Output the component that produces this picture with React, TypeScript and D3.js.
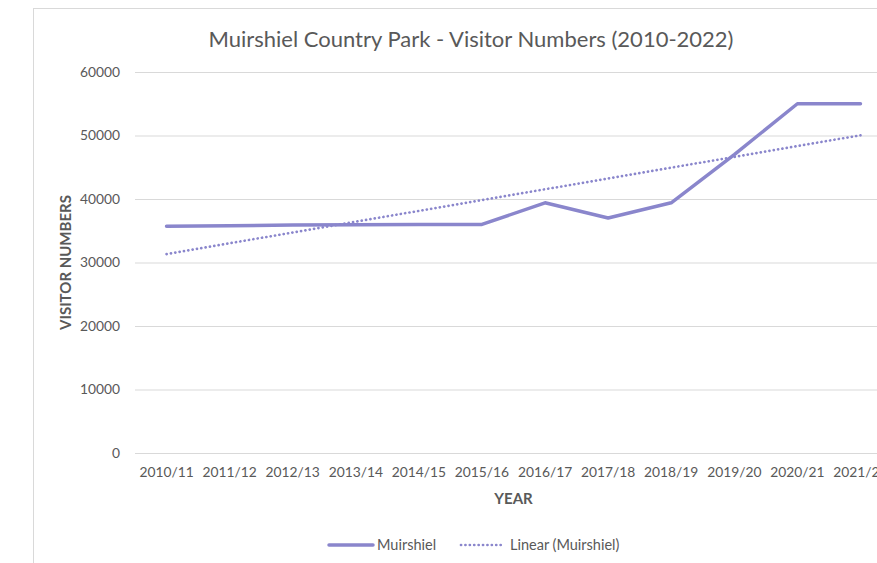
import * as d3 from 'd3';
import { useEffect, useRef } from "react";
import * as React from "react";

const years = ["2010/11", "2011/12", "2012/13", "2013/14", "2014/15", "2015/16",
    "2016/17", "2017/18", "2018/19", "2019/20", "2020/21", "2021/22"];
const visitors = [35700, 35800, 35900, 35950, 36000, 36000, 39400, 37000, 39400, 47000, 55000, 55000];
const yTicks = [0, 10000, 20000, 30000, 40000, 50000, 60000];

const title = "Muirshiel Country Park - Visitor Numbers (2010-2022)";
const lineColor = "#8a86cc";
const textColor = "#595959";
const font = "Lato, 'Open Sans', sans-serif";

const App: React.FC = () => {
    const svgRef = useRef<SVGSVGElement | null>(null);

    useEffect(() => {
        if (!svgRef.current) return;
        const width = 877;
        const height = 563;
        const margin = { top: 72, right: -15, bottom: 110, left: 135 };

        const svg = d3.select(svgRef.current)
            .attr("width", width)
            .attr("height", height);
        svg.selectAll("*").remove();

        // chart frame (runs past the right and bottom edges)
        svg.append("rect")
            .attr("x", 33.5).attr("y", 8.5)
            .attr("width", 1000).attr("height", 1000)
            .attr("fill", "white")
            .attr("stroke", "#d9d9d9");

        const x = d3.scaleBand<string>()
            .domain(years)
            .range([margin.left, width - margin.right]);
        const y = d3.scaleLinear()
            .domain([0, 60000])
            .range([height - margin.bottom, margin.top]);

        // gridlines + y labels
        const yAxis = svg.append("g")
            .attr("transform", `translate(${margin.left},0)`)
            .call(d3.axisLeft(y).tickValues(yTicks).tickSize(-(width - margin.right - margin.left)).tickPadding(15).tickFormat(d => String(d)))
            .call(g => g.select(".domain").remove());
        yAxis.selectAll(".tick line").attr("stroke", "#d9d9d9").attr("stroke-width", 1);
        yAxis.selectAll(".tick text")
            .attr("fill", textColor)
            .style("font-family", font)
            .style("font-size", "13.8px");

        // x labels
        const xAxis = svg.append("g")
            .attr("transform", `translate(0,${height - margin.bottom})`)
            .call(d3.axisBottom(x).tickSize(0).tickPadding(14))
            .call(g => g.select(".domain").remove());
        xAxis.selectAll(".tick text")
            .attr("fill", textColor)
            .style("font-family", font)
            .style("font-size", "13.8px");

        // title
        svg.append("text")
            .attr("x", 471).attr("y", 47)
            .attr("text-anchor", "middle")
            .attr("fill", textColor)
            .style("font-family", font)
            .style("font-size", "22px")
            .text(title);

        // axis titles
        svg.append("text")
            .attr("transform", `translate(71,${(y(0) + y(60000)) / 2}) rotate(-90)`)
            .attr("text-anchor", "middle")
            .attr("fill", textColor)
            .style("font-family", font)
            .style("font-size", "15px")
            .style("font-weight", "bold")
            .text("VISITOR NUMBERS");
        svg.append("text")
            .attr("x", (margin.left + width - margin.right) / 2)
            .attr("y", 504)
            .attr("text-anchor", "middle")
            .attr("fill", textColor)
            .style("font-family", font)
            .style("font-size", "15px")
            .style("font-weight", "bold")
            .text("YEAR");

        const cx = (d: string) => (x(d) as number) + x.bandwidth() / 2;

        // linear trend (least squares)
        const n = visitors.length;
        const xm = (n - 1) / 2;
        const ym = d3.mean(visitors) as number;
        const slope = d3.sum(visitors, (v, i) => (i - xm) * (v - ym)) / d3.sum(visitors, (_, i) => (i - xm) ** 2);
        const trend = years.map((yr, i) => ({ yr, v: ym + slope * (i - xm) }));

        const line = d3.line<{ yr: string; v: number }>()
            .x(d => cx(d.yr))
            .y(d => y(d.v));

        svg.append("path")
            .datum(years.map((yr, i) => ({ yr, v: visitors[i] })))
            .attr("fill", "none")
            .attr("stroke", lineColor)
            .attr("stroke-width", 3.5)
            .attr("stroke-linejoin", "round")
            .attr("stroke-linecap", "round")
            .attr("d", line);

        svg.append("path")
            .datum([trend[0], trend[n - 1]])
            .attr("fill", "none")
            .attr("stroke", lineColor)
            .attr("stroke-width", 2.7)
            .attr("stroke-linecap", "round")
            .attr("stroke-dasharray", "0.1 4.3")
            .attr("d", line);

        // legend
        const legend = svg.append("g").attr("transform", "translate(0,545)");
        legend.append("line")
            .attr("x1", 329).attr("x2", 373)
            .attr("stroke", lineColor).attr("stroke-width", 3.5).attr("stroke-linecap", "round");
        legend.append("text")
            .attr("x", 377).attr("y", 5)
            .attr("fill", textColor)
            .style("font-family", font).style("font-size", "14.5px")
            .text("Muirshiel");
        legend.append("line")
            .attr("x1", 461).attr("x2", 504)
            .attr("stroke", lineColor).attr("stroke-width", 2.7)
            .attr("stroke-linecap", "round").attr("stroke-dasharray", "0.1 4.3");
        legend.append("text")
            .attr("x", 510).attr("y", 5)
            .attr("fill", textColor)
            .style("font-family", font).style("font-size", "14.5px")
            .text("Linear (Muirshiel)");
    }, []);

    return (
        <svg ref={svgRef} style={{ position: "absolute", left: 0, top: 0 }}></svg>
    );
};

export default App;
